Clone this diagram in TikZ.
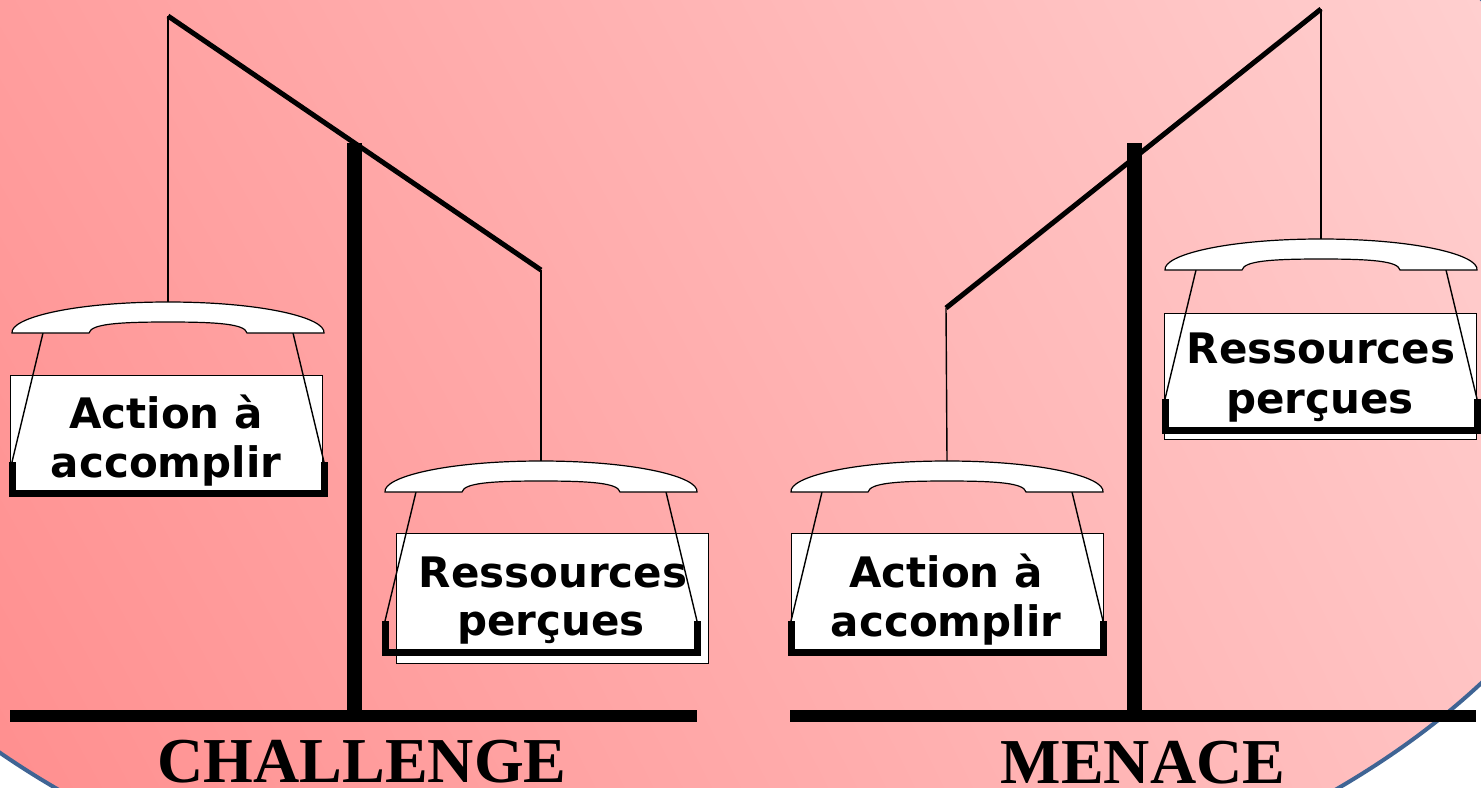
\documentclass[tikz,border=0pt]{standalone}
\usepackage{fontspec}
\usetikzlibrary{shadings}
\newfontfamily\labfont{DejaVu Sans}
\newfontfamily\ttlfont{Liberation Serif}
\definecolor{rimblue}{RGB}{63,100,148}
\definecolor{bgLL}{RGB}{255,143,143}
\definecolor{bgUL}{RGB}{255,158,158}
\definecolor{bgLR}{RGB}{255,194,194}
\definecolor{bgUR}{RGB}{255,207,207}
\begin{document}
\begin{tikzpicture}[x=0.5pt,y=-0.5pt,
  beam/.style={line width=2.5pt},
  thinline/.style={line width=0.7pt},
  pillar/.style={line width=7.5pt},
  basebar/.style={line width=6pt},
  plate/.style={draw=black, fill=white, line width=0.5pt, inner sep=0pt, minimum width=156pt},
  lab/.style={font=\labfont\bfseries\fontsize{21}{24}\selectfont, inner sep=0pt, anchor=base},
  ttl/.style={font=\ttlfont\bfseries\fontsize{32}{36}\selectfont, inner sep=0pt, anchor=base},
  pan/.pic={
    \coordinate (-top) at (0,0);
    \coordinate (-bl) at (-125,31);
    \coordinate (-br) at (125,31);
    \coordinate (-kl) at (-156,160);
    \coordinate (-kr) at (156,160);
    \coordinate (-cl) at (-156,191);
    \coordinate (-cr) at (156,191);
    \draw[thinline] (-bl) -- (-kl);
    \draw[thinline] (-br) -- (-kr);
    \draw[line width=3.5pt, line join=miter] (-kl) -- (-cl) -- (-cr) -- (-kr);
    \draw[line width=0.6pt, fill=white] (-156,31) .. controls (-158,16) and (-95,0) .. (0,0)
      .. controls (95,0) and (158,16) .. (156,31) -- (79,31)
      .. controls (77,22) and (50,20) .. (0,20)
      .. controls (-50,20) and (-77,22) .. (-79,31) -- cycle;
  }]
\useasboundingbox (0,0) rectangle (1481,787);
% background
\begin{scope}
  \clip (697,341) ellipse [x radius=475pt, y radius=303pt];
  \shade[lower left=bgLL, upper left=bgUL, lower right=bgLR, upper right=bgUR] (0,0) rectangle (1481,787);
\end{scope}
\draw[rimblue, line width=2pt] (697,341) ellipse [x radius=475pt, y radius=303pt];

% plates (boxes)
\node[plate, minimum height=57.5pt] (boxA) at (166,432.5) {};
\node[plate, minimum height=65pt] (boxB) at (552,598) {};
\node[plate, minimum height=60pt] (boxC) at (947,593) {};
\node[plate, minimum height=63pt] (boxD) at (1320,376) {};

% labels
\node[lab] (a1) at (166,428) {Action à};
\node[lab] (a2) at (166,477) {accomplir};
\node[lab] (b1) at (553,587) {Ressources};
\node[lab] (b2) at (551,635) {perçues};
\node[lab] (c1) at (946,587) {Action à};
\node[lab] (c2) at (946,636) {accomplir};
\node[lab] (d1) at (1321,363) {Ressources};
\node[lab] (d2) at (1320,413) {perçues};

% pans
\pic (pA) at (168,302) {pan};
\pic (pB) at (541,461) {pan};
\pic (pC) at (947,461) {pan};
\pic (pD) at (1321,239) {pan};

% left balance
\coordinate (lpT) at (354.5,143);
\coordinate (lpB) at (354.5,716);
\coordinate (lbL) at (168,16);
\coordinate (lbR) at (541,270);
\coordinate (lg1) at (10,716);
\coordinate (lg2) at (697,716);
\draw[pillar] (lpT) -- (lpB);
\draw[beam] (lbL) -- (lbR);
\draw[thinline] (lbL) -- (pA-top);
\draw[thinline] (lbR) -- (pB-top);
\draw[basebar] (lg1) -- (lg2);

% right balance
\coordinate (rpT) at (1134,143);
\coordinate (rpB) at (1134,716);
\coordinate (rbL) at (946,308);
\coordinate (rbR) at (1321,9);
\coordinate (rg1) at (790,716);
\coordinate (rg2) at (1476,716);
\draw[pillar] (rpT) -- (rpB);
\draw[beam] (rbL) -- (rbR);
\draw[thinline] (rbL) -- (pC-top);
\draw[thinline] (rbR) -- (pD-top);
\draw[basebar] (rg1) -- (rg2);

% titles
\node[ttl] (tch) at (362,782) {CHALLENGE};
\node[ttl] (tme) at (1143,783) {MENACE};
\end{tikzpicture}
\end{document}
